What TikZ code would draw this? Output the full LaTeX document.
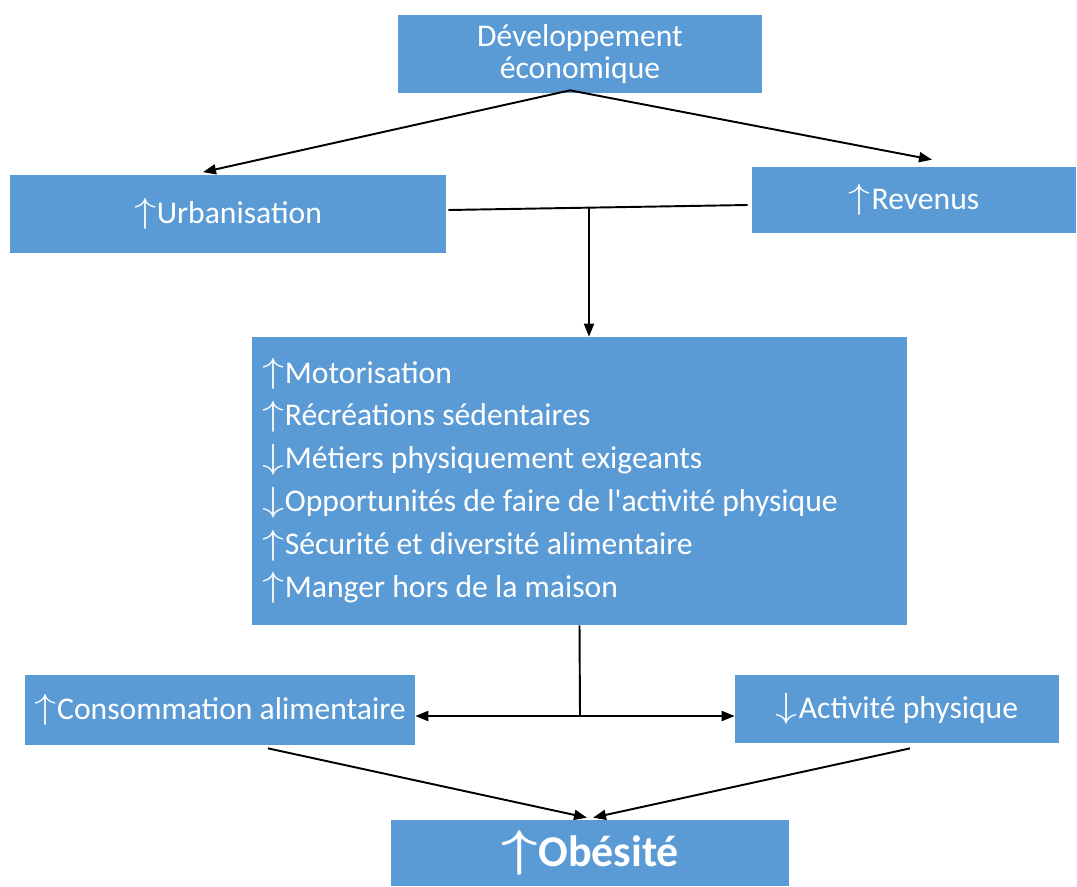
\documentclass[tikz,border=0pt]{standalone}
\usepackage{fontspec}
\setmainfont{Carlito}[Ligatures=TeXOff]
\usetikzlibrary{arrows.meta}
\definecolor{office_blue}{RGB}{91,155,213}
\newcommand{\hausse}{\raisebox{0.3pt}{\scalebox{1.45}[1.15]{$\uparrow$}}\kern0.5pt}
\newcommand{\baisse}{\raisebox{0.3pt}{\scalebox{1.45}[1.15]{$\downarrow$}}\kern0.5pt}

\begin{document}
\begin{tikzpicture}[x=0.02cm, y=-0.02cm,
    every node/.style={font=\fontsize{18}{18.1}\selectfont, text=white},
    box/.style={fill=office_blue, inner sep=0pt, align=center},
    link/.style={-{Triangle[length=0.26cm, width=0.2cm]}, line width=1.1pt}]
        \useasboundingbox (0,0) rectangle (1077,886);
        \node[box, minimum width=7.3cm, minimum height=1.56cm]
              (dev) at (580,54) {Développement\\économique};
        \node[box, minimum width=8.72cm, minimum height=1.58cm]
              (urb) at (228,214) {\hausse Urbanisation};
        \node[box, minimum width=6.48cm, minimum height=1.32cm]
              (rev) at (914,200) {\hausse Revenus};
        \node[box, minimum width=13.1cm, minimum height=5.76cm,
              text width=12.7cm, align=flush left,
              font=\fontsize{18}{24.4}\selectfont]
              (mid) at (579.5,481) {\hausse Motorisation\\
              \hausse Récréations sédentaires\\
              \baisse Métiers physiquement exigeants\\
              \baisse Opportunités de faire de l'activité physique\\
              \hausse Sécurité et diversité alimentaire\\
              \hausse Manger hors de la maison};
        \node[box, minimum width=7.8cm, minimum height=1.4cm]
              (cons) at (220,710) {\hausse Consommation alimentaire};
        \node[box, minimum width=6.48cm, minimum height=1.36cm]
              (act) at (897,709) {\baisse Activité physique};
        \node[box, minimum width=7.96cm, minimum height=1.32cm,
              font=\bfseries\boldmath\fontsize{25}{26}\selectfont]
              (obe) at (590,853) {\hausse Obésité};
        % from the top box down to both causes
        \draw[link] ([shift={(-10,-3)}]dev.south) -- ([shift={(-25,-2)}]urb.north);
        \draw[link] ([shift={(-10,-3)}]dev.south) -- ([shift={(18,-7)}]rev.north);
        \coordinate (split) at (589,207);
        \draw[line width=1.1pt] ([shift={(2,-4)}]urb.east) -- ([shift={(-4,5)}]rev.west);
        \draw[link] (split) -- (split |- mid.north);
        % split towards the two behaviours
        \coordinate (merge) at (580,716);
        \draw[line width=1.1pt] (mid.south) -- (merge);
        \draw[link, {Triangle[length=0.26cm, width=0.2cm]}-{Triangle[length=0.26cm, width=0.2cm]}]
          (cons.east |- merge) -- (act.west |- merge);
        \draw[link] ([shift={(48,3)}]cons.south) -- ([shift={(-3,-2)}]obe.north);
        \draw[link] ([shift={(13,5)}]act.south) -- ([shift={(3,-2)}]obe.north);
      \end{tikzpicture}
\end{document}
